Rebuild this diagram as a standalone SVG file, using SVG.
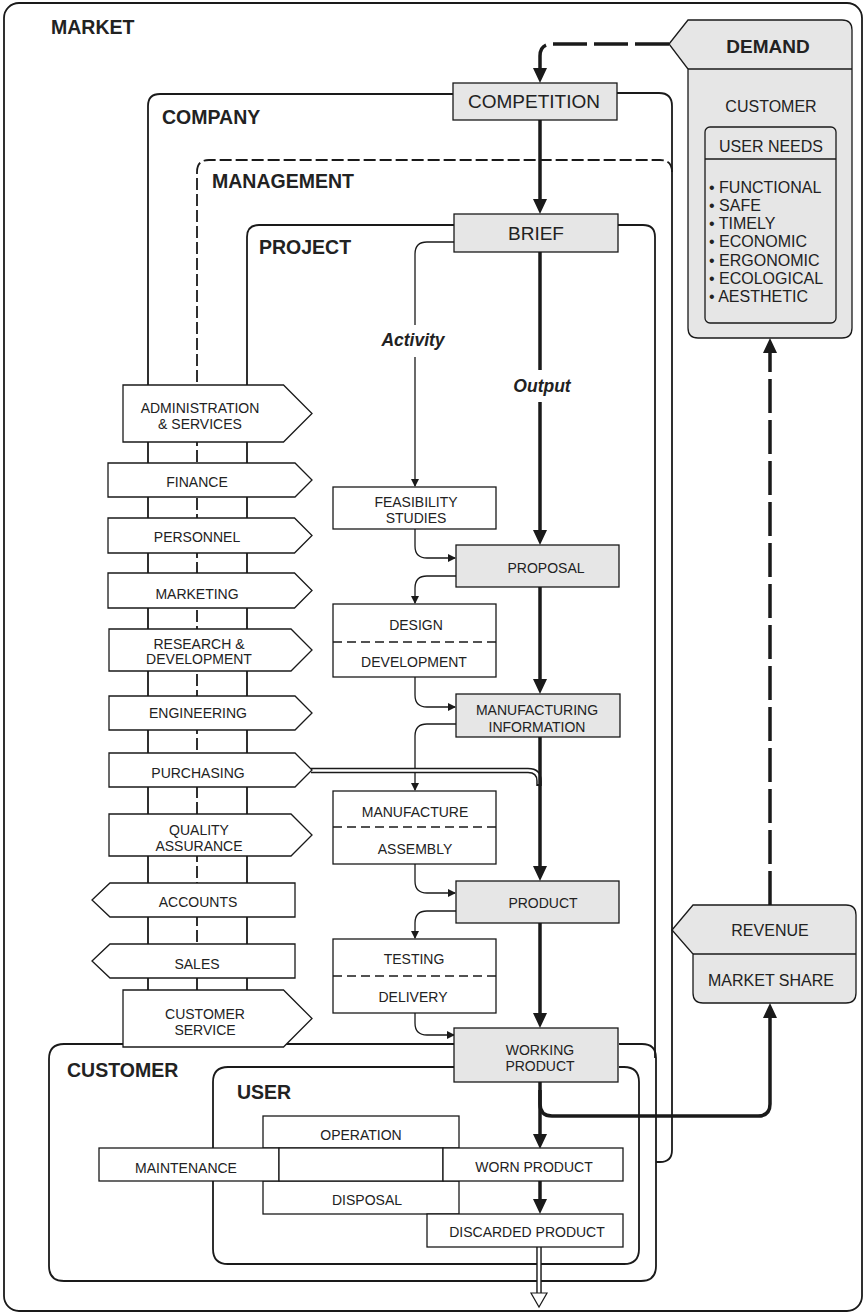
<svg xmlns="http://www.w3.org/2000/svg" width="866" height="1314" viewBox="0 0 866 1314">
  <defs>
    <style>
      text { font-family: "Liberation Sans", Arial, sans-serif; fill: #222; }
      .lbl { font-size: 19.5px; font-weight: bold; }
      .t14 { font-size: 14px; text-anchor: middle; }
      .t16 { font-size: 16px; text-anchor: middle; }
      .t19 { font-size: 19px; text-anchor: middle; }
      .bi { font-size: 17.5px; font-weight: bold; font-style: italic; text-anchor: middle; }
      .frame { fill: none; stroke: #1a1a1a; stroke-width: 1.8; }
      .dash { stroke-dasharray: 12 4; }
      .box { fill: #fff; stroke: #1a1a1a; stroke-width: 1.3; }
      .gbox { fill: #e6e6e6; stroke: #1a1a1a; stroke-width: 1.3; }
      .thin { fill: none; stroke: #1a1a1a; stroke-width: 1.3; }
      .thick { fill: none; stroke: #1a1a1a; stroke-width: 3.5; }
      .tdash { stroke-dasharray: 34 7; }
      .div { stroke: #1a1a1a; stroke-width: 1.3; stroke-dasharray: 9 5; }
      .dbl-o { fill: none; stroke: #1a1a1a; stroke-width: 5.5; }
      .dbl-i { fill: none; stroke: #fff; stroke-width: 2.6; }
    </style>
    <marker id="ah" viewBox="0 0 15 14" refX="7" refY="7" markerWidth="15" markerHeight="14" markerUnits="userSpaceOnUse" orient="auto">
      <path d="M0,0 L15,7 L0,14 Z" fill="#1a1a1a"/>
    </marker>
    <marker id="as" viewBox="0 0 8 8" refX="7" refY="4" markerWidth="8" markerHeight="8" markerUnits="userSpaceOnUse" orient="auto">
      <path d="M0,0 L8,4 L0,8 Z" fill="#1a1a1a"/>
    </marker>
  </defs>

  <rect width="866" height="1314" fill="#fff"/>

  <!-- nested boundaries -->
  <g id="containers">
    <rect id="market" class="frame" x="4" y="3" width="858" height="1308" rx="15"/>
    <text class="lbl" x="51" y="34">MARKET</text>

    <path id="company" class="frame" d="M148,990 L148,106 Q148,94 160,94 L453,94 M617,93 L659,93 Q672,93 672,106 L672,1150 Q672,1162 660,1162 L656,1162"/>
    <text class="lbl" x="162" y="124">COMPANY</text>

    <path id="management" class="frame dash" d="M197,990 L197,172 Q197,160 209,160 L660,160 Q672,160 672,172"/>
    <text class="lbl" x="212" y="188">MANAGEMENT</text>

    <path id="project" class="frame" d="M454,225 L259,225 Q247,225 247,237 L247,990 M618,225 L643,225 Q655,225 655,237 L655,1058"/>
    <text class="lbl" x="259" y="254">PROJECT</text>

    <path id="customer" class="frame" d="M455,1044 L64,1044 Q49,1044 49,1059 L49,1266 Q49,1281 64,1281 L641,1281 Q656,1281 656,1266 L656,1058 Q656,1044 642,1044 L619,1044"/>
    <text class="lbl" x="67" y="1077">CUSTOMER</text>

    <path id="user" class="frame" d="M455,1067 L228,1067 Q213,1067 213,1082 L213,1249 Q213,1264 228,1264 L624,1264 Q639,1264 639,1249 L639,1082 Q639,1067 624,1067 L619,1067"/>
    <text class="lbl" x="237" y="1099">USER</text>
  </g>

  <!-- connectors -->
  <g id="connectors">
    <!-- activity path (thin) -->
    <path class="thin" d="M454,242 L427,242 Q415,242 415,254 L415,325"/>
    <path class="thin" marker-end="url(#as)" d="M415,357 L415,486"/>
    <path class="thin" marker-end="url(#as)" d="M415,529 L415,546 Q415,558 427,558 L455,558"/>
    <path class="thin" marker-end="url(#as)" d="M456,576 L427,576 Q415,576 415,588 L415,603"/>
    <path class="thin" marker-end="url(#as)" d="M415,677 L415,695 Q415,707 427,707 L455,707"/>
    <path class="thin" marker-end="url(#as)" d="M456,724 L427,724 Q415,724 415,736 L415,790"/>
    <path class="thin" marker-end="url(#as)" d="M415,864 L415,881 Q415,893 427,893 L455,893"/>
    <path class="thin" marker-end="url(#as)" d="M456,911 L427,911 Q415,911 415,923 L415,938"/>
    <path class="thin" marker-end="url(#as)" d="M415,1013 L415,1023 Q415,1035 427,1035 L454,1035"/>

    <!-- purchasing supply (double line) -->
    <path class="dbl-o" d="M311,770.5 L528,770.5 Q539,770.5 539,781 L539,786"/>
    <path class="dbl-i" d="M311,770.5 L528,770.5 Q539,770.5 539,781 L539,784"/>

    <!-- output path (thick) -->
    <path class="thick tdash" marker-end="url(#ah)" d="M669,44 L552,44 Q540,44 540,56 L540,75"/>
    <path class="thick" marker-end="url(#ah)" d="M540,120 L540,206"/>
    <path class="thick" d="M540,252 L540,370"/>
    <path class="thick" marker-end="url(#ah)" d="M540,402 L540,537"/>
    <path class="thick" marker-end="url(#ah)" d="M540,587 L540,686"/>
    <path class="thick" marker-end="url(#ah)" d="M540,737 L540,873"/>
    <path class="thick" marker-end="url(#ah)" d="M540,923 L540,1020"/>
    <path class="thick" marker-end="url(#ah)" d="M540,1082 L540,1141"/>
    <path class="thick" marker-end="url(#ah)" d="M540,1090 L540,1104 Q540,1116 552,1116 L758,1116 Q770,1116 770,1104 L770,1011"/>
    <path class="thick" marker-end="url(#ah)" d="M540,1181 L540,1206"/>
    <path class="thick tdash" marker-end="url(#ah)" d="M770,905 L770,346"/>

    <!-- disposal outflow (hollow) -->
    <path class="dbl-o" d="M539,1247 L539,1294"/>
    <path class="dbl-i" d="M539,1246 L539,1295"/>
    <polygon points="531,1293 547,1293 539,1307" fill="#fff" stroke="#1a1a1a" stroke-width="1.2"/>
  </g>

  <text class="bi" x="413" y="346">Activity</text>
  <text class="bi" x="542" y="392">Output</text>

  <!-- company functions -->
  <g id="admin"><path class="box" d="M123,385 L283.5,385 L312,413.5 L283.5,442 L123,442 Z"/>
    <text class="t14" x="200" y="413">ADMINISTRATION</text><text class="t14" x="200" y="429">&amp; SERVICES</text></g>
  <g id="finance"><path class="box" d="M108,463 L295,463 L312,480 L295,497 L108,497 Z"/>
    <text class="t14" x="197" y="487">FINANCE</text></g>
  <g id="personnel"><path class="box" d="M108,518 L294.5,518 L312,535.5 L294.5,553 L108,553 Z"/>
    <text class="t14" x="197" y="542">PERSONNEL</text></g>
  <g id="marketing"><path class="box" d="M108,573 L294.5,573 L312,590.5 L294.5,608 L108,608 Z"/>
    <text class="t14" x="197" y="599">MARKETING</text></g>
  <g id="research"><path class="box" d="M109,629 L291,629 L312,650 L291,671 L109,671 Z"/>
    <text class="t14" x="199" y="649">RESEARCH &amp;</text><text class="t14" x="199" y="664">DEVELOPMENT</text></g>
  <g id="engineering"><path class="box" d="M109,696 L295,696 L312,713 L295,730 L109,730 Z"/>
    <text class="t14" x="198" y="718">ENGINEERING</text></g>
  <g id="purchasing"><path class="box" d="M109,753 L295,753 L312,770 L295,787 L109,787 Z"/>
    <text class="t14" x="198" y="778">PURCHASING</text></g>
  <g id="quality"><path class="box" d="M109,814 L291,814 L312,835 L291,856 L109,856 Z"/>
    <text class="t14" x="199" y="835">QUALITY</text><text class="t14" x="199" y="851">ASSURANCE</text></g>
  <g id="accounts"><path class="box" d="M92,900 L110,883 L295,883 L295,917 L110,917 Z"/>
    <text class="t14" x="198" y="907">ACCOUNTS</text></g>
  <g id="sales"><path class="box" d="M92,961 L110,944 L295,944 L295,978 L110,978 Z"/>
    <text class="t14" x="197" y="969">SALES</text></g>
  <g id="customer-service"><path class="box" d="M123,990 L283.5,990 L312,1018.5 L283.5,1047 L123,1047 Z"/>
    <text class="t14" x="205" y="1019">CUSTOMER</text><text class="t14" x="205" y="1035">SERVICE</text></g>

  <!-- output states -->
  <g id="competition"><rect class="gbox" x="453" y="83" width="164" height="37"/>
    <text class="t19" x="534" y="108">COMPETITION</text></g>
  <g id="brief"><rect class="gbox" x="454" y="214" width="164" height="38"/>
    <text class="t19" x="536" y="240">BRIEF</text></g>
  <g id="proposal"><rect class="gbox" x="456" y="545" width="163" height="42"/>
    <text class="t14" x="546" y="573">PROPOSAL</text></g>
  <g id="manufacturing-information"><rect class="gbox" x="456" y="694" width="164" height="43"/>
    <text class="t14" x="537" y="715">MANUFACTURING</text><text class="t14" x="537" y="732">INFORMATION</text></g>
  <g id="product"><rect class="gbox" x="456" y="881" width="163" height="42"/>
    <text class="t14" x="543" y="908">PRODUCT</text></g>
  <g id="working-product"><rect class="gbox" x="454" y="1028" width="164" height="54"/>
    <text class="t14" x="540" y="1055">WORKING</text><text class="t14" x="540" y="1071">PRODUCT</text></g>

  <!-- activities -->
  <g id="feasibility"><rect class="box" x="333" y="487" width="163" height="42"/>
    <text class="t14" x="416" y="507">FEASIBILITY</text><text class="t14" x="416" y="523">STUDIES</text></g>
  <g id="design"><rect class="box" x="333" y="604" width="163" height="73"/>
    <line class="div" x1="333" y1="642" x2="496" y2="642"/>
    <text class="t14" x="416" y="630">DESIGN</text><text class="t14" x="414" y="667">DEVELOPMENT</text></g>
  <g id="manufacture"><rect class="box" x="333" y="791" width="163" height="73"/>
    <line class="div" x1="333" y1="827" x2="496" y2="827"/>
    <text class="t14" x="415" y="817">MANUFACTURE</text><text class="t14" x="415" y="854">ASSEMBLY</text></g>
  <g id="testing"><rect class="box" x="333" y="939" width="163" height="74"/>
    <line class="div" x1="333" y1="976" x2="496" y2="976"/>
    <text class="t14" x="414" y="964">TESTING</text><text class="t14" x="413" y="1002">DELIVERY</text></g>

  <!-- use phase -->
  <g id="operation"><rect class="box" x="263" y="1116" width="196" height="32"/>
    <text class="t14" x="361" y="1140">OPERATION</text></g>
  <g id="disposal"><rect class="box" x="263" y="1181" width="196" height="33"/>
    <text class="t14" x="367" y="1205">DISPOSAL</text></g>
  <g id="maintenance"><rect class="box" x="99" y="1148" width="180" height="33"/>
    <text class="t14" x="186" y="1173">MAINTENANCE</text></g>
  <g id="in-use"><rect class="box" x="279" y="1148" width="164" height="33"/></g>
  <g id="worn-product"><rect class="box" x="443" y="1148" width="180" height="33"/>
    <text class="t14" x="534" y="1172">WORN PRODUCT</text></g>
  <g id="discarded-product"><rect class="box" x="427" y="1214" width="196" height="33"/>
    <text class="t14" x="527" y="1237">DISCARDED PRODUCT</text></g>

  <!-- market side -->
  <g id="demand">
    <path class="gbox" d="M669,44 L688,20 L842,20 Q852,20 852,30 L852,328 Q852,338 842,338 L698,338 Q688,338 688,328 L688,69 Z"/>
    <line x1="688" y1="69" x2="852" y2="69" stroke="#1a1a1a" stroke-width="1.3"/>
    <text class="t19" x="768" y="53" font-weight="bold">DEMAND</text>
    <text class="t16" x="771" y="112">CUSTOMER</text>
    <rect class="gbox" x="705" y="127" width="131" height="196" rx="5"/>
    <line x1="705" y1="159" x2="836" y2="159" stroke="#1a1a1a" stroke-width="1.3"/>
    <text class="t16" x="771" y="152">USER NEEDS</text>
    <g font-size="16px">
      <text x="709" y="193">• FUNCTIONAL</text>
      <text x="709" y="211">• SAFE</text>
      <text x="709" y="229">• TIMELY</text>
      <text x="709" y="247">• ECONOMIC</text>
      <text x="709" y="266">• ERGONOMIC</text>
      <text x="709" y="284">• ECOLOGICAL</text>
      <text x="709" y="302">• AESTHETIC</text>
    </g>
  </g>
  <g id="revenue">
    <path class="gbox" d="M672,930 L693,905 L846,905 Q856,905 856,915 L856,993 Q856,1003 846,1003 L703,1003 Q693,1003 693,993 L693,954 Z"/>
    <line x1="693" y1="954" x2="856" y2="954" stroke="#1a1a1a" stroke-width="1.3"/>
    <text class="t16" x="770" y="936">REVENUE</text>
    <text class="t16" x="771" y="986">MARKET SHARE</text>
  </g>
</svg>
